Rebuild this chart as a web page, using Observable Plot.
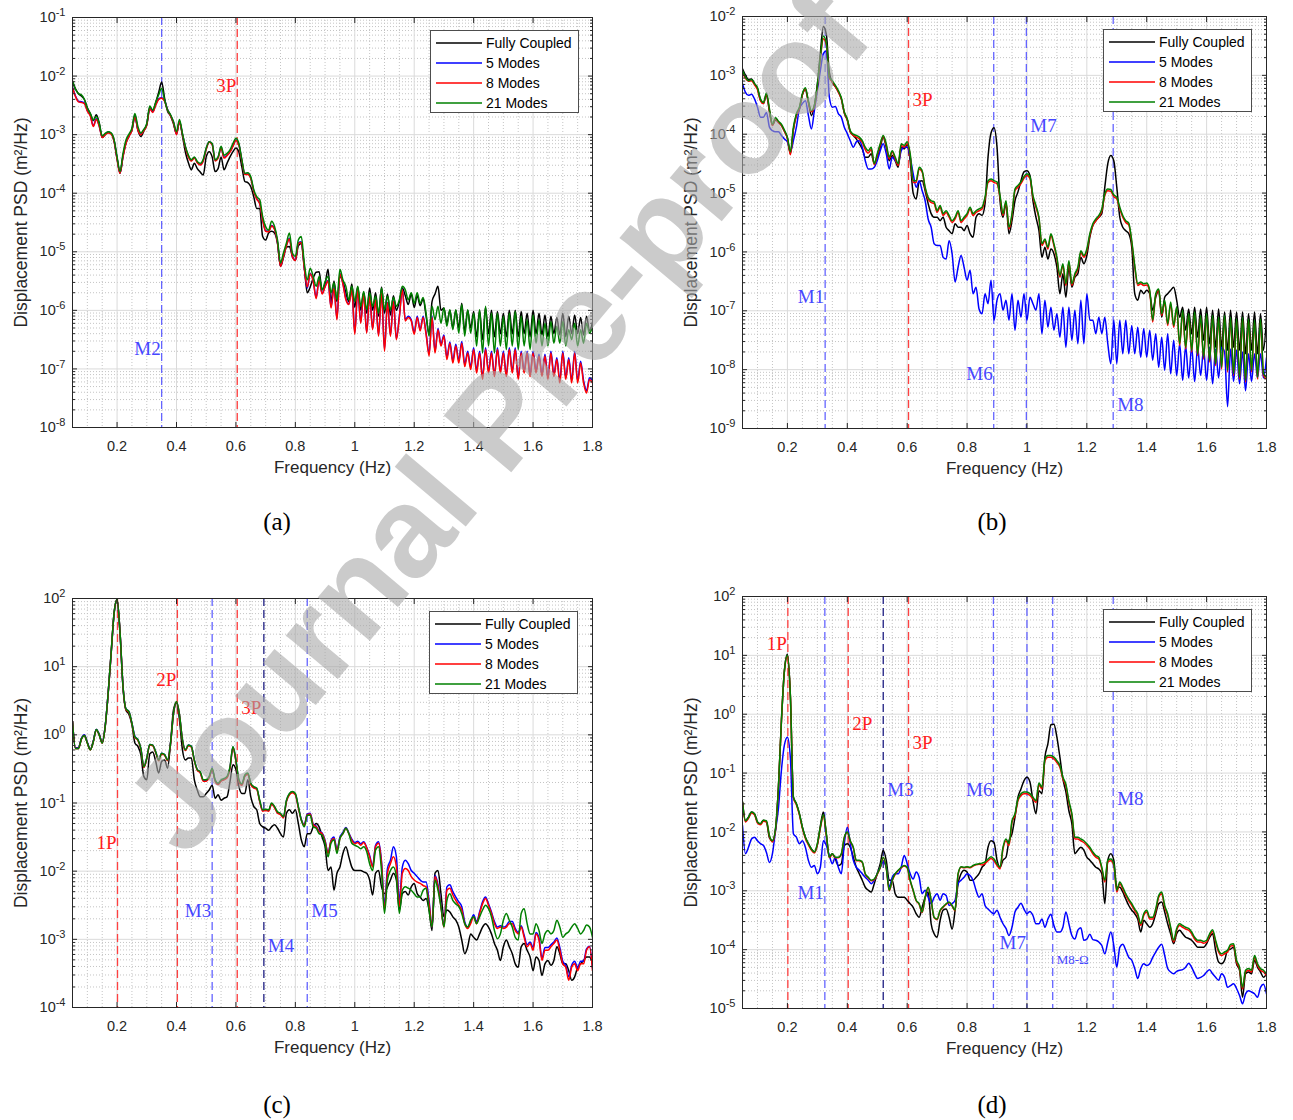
<!DOCTYPE html>
<html>
<head>
<meta charset="utf-8">
<script src="https://cdn.jsdelivr.net/npm/d3@7"></script>
<script src="https://cdn.jsdelivr.net/npm/@observablehq/plot@0.6"></script>
<style>
  body { margin: 0; background: #fff; }
  #page { position: relative; width: 1293px; height: 1120px; overflow: hidden; background: #fff;
          font-family: "Liberation Sans", Arial, sans-serif; }
  .panel { position: absolute; }
  .legend { position: absolute; width: 147px; height: 81px; border: 1px solid #4d4d4d; background: #fff;
            box-sizing: content-box; padding: 0; font-size: 14px; color: #000; }
  .legend .row { position: absolute; left: 0; height: 20px; width: 147px; }
  .legend .row svg { position: absolute; left: 4px; top: 0; }
  .legend .row span { position: absolute; left: 55px; top: 1px; line-height: 18px; white-space: nowrap; }
  .tag { position: absolute; font-family: "Liberation Serif", "Times New Roman", serif; font-size: 25px;
         color: #000; transform: translate(-50%, -50%); }
  #stamp { position: absolute; left: 0; top: 0; pointer-events: none; }
</style>
</head>
<body>
<div id="page"></div>
<script>
// Frequency grid shared by all spectra (Hz)
const freqHz = d3.range(176).map(i => Math.round((0.05 + i * 0.01) * 100) / 100);

const seriesNames = ["Fully Coupled", "5 Modes", "8 Modes", "21 Modes"];
const seriesColors = ["#000000", "#0000ff", "#ff0000", "#008000"];

// Spectra are stored as log10 of displacement PSD (m^2/Hz), one value per frequency step.
// ---- (a)
const logPsdA_fully = [
  -2.10,-2.22,-2.30,-2.34,-2.40,-2.54,-2.64,-2.76,-2.66,-2.80,
  -3.05,-3.00,-2.96,-2.98,-3.10,-3.40,-3.66,-3.36,-3.14,-3.02,
  -2.92,-2.66,-2.92,-3.03,-2.94,-2.82,-2.54,-2.60,-2.45,-2.28,
  -2.10,-2.38,-2.60,-2.68,-2.82,-2.98,-2.78,-3.02,-3.30,-3.48,
  -3.60,-3.49,-3.58,-3.64,-3.69,-3.38,-3.29,-3.38,-3.63,-3.58,
  -3.38,-3.60,-3.49,-3.38,-3.29,-3.23,-3.30,-3.55,-3.80,-3.82,
  -3.89,-4.06,-4.26,-4.26,-4.74,-4.80,-4.68,-4.65,-4.68,-4.86,
  -5.25,-5.10,-4.92,-4.91,-5.08,-5.15,-4.90,-4.86,-5.25,-5.70,
  -5.60,-5.45,-5.35,-5.34,-5.65,-5.55,-5.30,-5.85,-5.50,-5.85,
  -5.42,-5.50,-5.70,-5.85,-5.55,-5.95,-5.60,-6.00,-5.70,-6.05,
  -5.62,-6.00,-5.70,-6.10,-5.60,-6.05,-5.72,-6.08,-5.75,-6.00,
  -5.85,-5.62,-5.75,-5.90,-5.72,-5.95,-5.75,-5.92,-5.80,-6.10,
  -6.40,-5.85,-5.72,-5.59,-6.00,-5.96,-6.22,-6.00,-6.30,-6.00,
  -6.30,-5.88,-6.35,-6.00,-6.30,-6.02,-6.45,-6.00,-6.50,-5.95,
  -6.40,-6.00,-6.45,-6.02,-6.40,-6.05,-6.45,-6.00,-6.40,-6.00,
  -6.45,-6.02,-6.40,-6.05,-6.45,-6.00,-6.40,-6.05,-6.42,-6.08,
  -6.45,-6.10,-6.40,-6.12,-6.42,-6.05,-6.45,-6.10,-6.40,-6.08,
  -6.40,-6.12,-6.42,-6.10,-6.35,-6.20
];
const logPsdA_5 = [
  -2.19,-2.34,-2.43,-2.44,-2.46,-2.59,-2.67,-2.85,-2.73,-2.85,
  -3.04,-2.99,-2.96,-2.98,-3.11,-3.41,-3.65,-3.37,-3.14,-3.02,
  -2.92,-2.69,-2.91,-2.99,-2.92,-2.83,-2.55,-2.61,-2.49,-2.39,
  -2.37,-2.42,-2.57,-2.67,-2.79,-2.99,-2.77,-2.99,-3.21,-3.37,
  -3.44,-3.39,-3.47,-3.51,-3.44,-3.24,-3.12,-3.16,-3.44,-3.39,
  -3.22,-3.39,-3.35,-3.29,-3.19,-3.09,-3.17,-3.44,-3.67,-3.67,
  -3.74,-3.96,-4.09,-4.17,-4.45,-4.64,-4.65,-4.55,-4.61,-4.84,
  -5.24,-5.07,-4.89,-4.77,-5.07,-5.14,-4.85,-4.83,-5.27,-5.62,
  -5.37,-5.49,-5.78,-5.47,-5.71,-5.59,-5.49,-5.94,-5.61,-6.14,
  -5.37,-5.54,-5.80,-5.89,-5.64,-6.38,-5.64,-6.20,-5.71,-6.37,
  -5.75,-6.31,-5.81,-6.42,-5.69,-6.66,-5.86,-6.42,-5.84,-6.48,
  -6.10,-5.64,-6.16,-6.10,-6.16,-6.38,-6.10,-6.33,-6.10,-6.39,
  -6.74,-6.10,-6.70,-6.31,-6.58,-6.42,-6.80,-6.54,-6.86,-6.58,
  -6.86,-6.53,-6.92,-6.70,-6.97,-6.64,-7.03,-6.70,-7.14,-6.64,
  -7.04,-6.70,-7.10,-6.64,-7.04,-6.70,-7.10,-6.64,-7.04,-6.64,
  -7.15,-6.70,-7.04,-6.70,-7.10,-6.70,-7.04,-6.75,-7.10,-6.75,
  -7.15,-6.70,-7.10,-6.81,-7.20,-6.70,-7.15,-6.81,-7.20,-6.70,
  -7.20,-6.87,-7.20,-7.37,-7.15,-7.20
];
const logPsdA_8 = [
  -2.20,-2.35,-2.44,-2.45,-2.47,-2.60,-2.68,-2.86,-2.74,-2.86,
  -3.05,-3.00,-2.97,-2.99,-3.12,-3.42,-3.66,-3.38,-3.15,-3.03,
  -2.93,-2.70,-2.92,-3.00,-2.93,-2.84,-2.56,-2.62,-2.50,-2.40,
  -2.38,-2.43,-2.58,-2.68,-2.80,-3.00,-2.78,-3.00,-3.22,-3.38,
  -3.45,-3.40,-3.48,-3.52,-3.45,-3.25,-3.13,-3.17,-3.45,-3.40,
  -3.23,-3.40,-3.36,-3.30,-3.20,-3.10,-3.18,-3.45,-3.68,-3.68,
  -3.75,-3.97,-4.10,-4.18,-4.46,-4.65,-4.66,-4.56,-4.62,-4.85,
  -5.25,-5.08,-4.90,-4.78,-5.08,-5.15,-4.86,-4.84,-5.28,-5.60,
  -5.38,-5.50,-5.80,-5.48,-5.72,-5.60,-5.50,-5.96,-5.62,-6.16,
  -5.38,-5.55,-5.82,-5.90,-5.65,-6.41,-5.65,-6.22,-5.72,-6.39,
  -5.76,-6.33,-5.82,-6.44,-5.70,-6.70,-5.87,-6.44,-5.85,-6.50,
  -6.12,-5.65,-6.18,-6.12,-6.18,-6.41,-6.12,-6.35,-6.12,-6.41,
  -6.78,-6.12,-6.73,-6.33,-6.61,-6.44,-6.84,-6.56,-6.90,-6.61,
  -6.90,-6.56,-6.96,-6.73,-7.01,-6.67,-7.07,-6.73,-7.18,-6.67,
  -7.07,-6.73,-7.13,-6.67,-7.07,-6.73,-7.13,-6.67,-7.07,-6.67,
  -7.18,-6.73,-7.07,-6.73,-7.13,-6.73,-7.07,-6.78,-7.13,-6.78,
  -7.18,-6.73,-7.13,-6.84,-7.24,-6.73,-7.18,-6.84,-7.24,-6.73,
  -7.24,-6.90,-7.24,-7.41,-7.18,-7.24
];
const logPsdA_21 = [
  -2.08,-2.22,-2.30,-2.32,-2.40,-2.55,-2.64,-2.75,-2.69,-2.81,
  -3.02,-2.98,-2.95,-2.97,-3.09,-3.38,-3.63,-3.32,-3.09,-2.99,
  -2.89,-2.64,-2.86,-2.97,-2.91,-2.81,-2.51,-2.58,-2.45,-2.32,
  -2.21,-2.41,-2.58,-2.66,-2.78,-2.95,-2.74,-2.98,-3.20,-3.35,
  -3.43,-3.38,-3.46,-3.49,-3.42,-3.23,-3.12,-3.15,-3.43,-3.38,
  -3.20,-3.35,-3.32,-3.26,-3.15,-3.06,-3.15,-3.43,-3.66,-3.65,
  -3.72,-3.94,-4.06,-4.11,-4.40,-4.57,-4.63,-4.48,-4.57,-4.80,
  -5.19,-5.02,-4.85,-4.68,-5.02,-5.08,-4.80,-4.74,-5.19,-5.48,
  -5.28,-5.42,-5.59,-5.42,-5.65,-5.51,-5.42,-5.70,-5.53,-5.82,
  -5.30,-5.48,-5.59,-5.82,-5.59,-5.85,-5.59,-5.93,-5.68,-5.99,
  -5.70,-5.93,-5.76,-6.05,-5.62,-5.99,-5.76,-5.99,-5.78,-5.93,
  -5.82,-5.59,-5.65,-5.82,-5.70,-5.88,-5.70,-5.88,-5.78,-6.05,
  -6.44,-5.93,-6.16,-5.93,-6.22,-5.96,-6.27,-5.99,-6.33,-5.99,
  -6.39,-5.90,-6.44,-5.99,-6.39,-6.05,-6.61,-5.99,-6.73,-5.93,
  -6.61,-6.05,-6.73,-6.05,-6.61,-6.10,-6.67,-6.05,-6.61,-6.02,
  -6.67,-6.10,-6.61,-6.16,-6.67,-6.08,-6.56,-6.16,-6.61,-6.22,
  -6.61,-6.19,-6.56,-6.27,-6.56,-6.19,-6.61,-6.33,-6.50,-6.22,
  -6.61,-6.33,-6.56,-6.22,-6.39,-6.27
];

// ---- (b)
const logPsdB_fully = [
  -2.89,-3.00,-3.07,-3.06,-3.14,-3.22,-3.42,-3.48,-3.33,-3.62,
  -3.85,-3.76,-3.80,-3.85,-3.95,-4.07,-4.33,-3.92,-3.68,-3.58,
  -3.33,-3.24,-3.46,-3.68,-3.52,-3.15,-2.62,-2.17,-2.30,-2.95,
  -3.12,-3.19,-3.28,-3.40,-3.64,-3.76,-3.96,-4.02,-4.08,-4.16,
  -4.25,-4.39,-4.39,-4.33,-4.50,-4.39,-4.22,-4.05,-4.22,-4.45,
  -4.36,-4.45,-4.56,-4.22,-4.25,-4.18,-4.45,-5.00,-5.10,-4.81,
  -4.79,-4.96,-5.18,-5.35,-5.41,-5.41,-5.47,-5.41,-5.58,-5.64,
  -5.69,-5.52,-5.58,-5.58,-5.64,-5.55,-5.69,-5.75,-5.41,-5.35,
  -5.38,-5.18,-4.39,-3.98,-3.89,-4.22,-5.13,-5.41,-5.18,-5.69,
  -5.47,-5.13,-4.98,-4.79,-4.64,-4.62,-4.70,-5.13,-5.41,-5.64,
  -6.09,-5.92,-6.12,-5.95,-6.03,-6.26,-6.71,-6.37,-6.77,-6.26,
  -6.60,-6.43,-6.37,-6.09,-6.20,-6.06,-5.75,-5.55,-5.47,-5.41,
  -5.35,-4.90,-4.50,-4.36,-4.45,-4.90,-5.41,-5.58,-5.64,-5.69,
  -5.92,-6.71,-6.82,-6.65,-6.71,-6.65,-6.71,-6.99,-6.77,-6.65,
  -7.11,-6.77,-6.71,-6.65,-6.60,-6.82,-7.11,-6.94,-7.33,-6.97,
  -7.39,-6.94,-7.45,-6.97,-7.50,-6.94,-7.56,-6.99,-7.62,-6.97,
  -7.62,-7.02,-7.67,-6.99,-7.62,-7.02,-7.67,-7.02,-7.73,-7.05,
  -7.67,-7.02,-7.73,-7.05,-7.67,-7.08
];
const logPsdB_5 = [
  -3.14,-3.29,-3.34,-3.32,-3.40,-3.54,-3.71,-3.71,-3.63,-3.88,
  -3.94,-3.96,-3.96,-4.02,-4.08,-4.13,-4.30,-4.11,-3.88,-3.57,
  -3.48,-3.43,-3.68,-3.91,-3.60,-3.26,-2.92,-2.63,-2.58,-3.37,
  -3.54,-3.53,-3.65,-3.71,-3.88,-3.99,-4.11,-4.22,-4.13,-4.11,
  -4.22,-4.45,-4.59,-4.59,-4.56,-4.45,-4.28,-4.16,-4.33,-4.59,
  -4.39,-4.45,-4.50,-4.28,-4.22,-4.22,-4.39,-4.67,-4.90,-4.79,
  -4.96,-5.13,-5.44,-5.58,-5.86,-5.89,-5.89,-6.09,-6.12,-5.81,
  -6.03,-6.51,-6.26,-6.06,-6.26,-6.48,-6.31,-6.71,-6.60,-6.97,
  -7.05,-6.71,-6.88,-6.48,-7.16,-6.82,-6.71,-6.99,-6.82,-7.16,
  -6.71,-7.33,-6.82,-7.11,-6.71,-7.16,-6.77,-6.88,-6.99,-6.71,
  -7.39,-6.82,-7.28,-6.94,-7.33,-7.05,-7.45,-6.94,-7.62,-6.94,
  -7.50,-6.99,-7.56,-6.82,-7.56,-6.71,-7.16,-7.16,-7.39,-7.11,
  -7.39,-7.11,-7.56,-7.90,-7.16,-7.90,-7.16,-7.73,-7.16,-7.73,
  -7.25,-7.73,-7.28,-7.79,-7.30,-7.79,-7.33,-7.84,-7.39,-7.96,
  -7.45,-8.01,-7.39,-8.07,-7.50,-8.10,-7.56,-8.18,-7.60,-8.14,
  -7.62,-8.20,-7.62,-8.10,-7.65,-8.18,-7.62,-8.24,-7.65,-8.14,
  -7.62,-7.70,-8.63,-7.65,-8.20,-7.67,-8.24,-7.70,-8.36,-7.73,
  -8.20,-7.73,-8.14,-7.73,-8.14,-7.80
];
const logPsdB_8 = [
  -2.95,-3.05,-3.10,-3.09,-3.16,-3.24,-3.43,-3.48,-3.32,-3.60,
  -3.85,-3.74,-3.80,-3.85,-3.95,-4.07,-4.35,-3.92,-3.68,-3.56,
  -3.33,-3.23,-3.45,-3.62,-3.53,-3.20,-2.72,-2.38,-2.48,-3.05,
  -3.11,-3.19,-3.28,-3.40,-3.63,-3.76,-3.96,-4.02,-4.05,-4.08,
  -4.14,-4.26,-4.32,-4.26,-4.52,-4.36,-4.18,-4.04,-4.19,-4.42,
  -4.30,-4.42,-4.53,-4.19,-4.22,-4.16,-4.36,-4.82,-4.82,-4.59,
  -4.64,-4.92,-5.10,-5.16,-5.18,-5.33,-5.24,-5.38,-5.33,-5.41,
  -5.50,-5.44,-5.33,-5.50,-5.44,-5.38,-5.27,-5.38,-5.33,-5.30,
  -5.27,-5.10,-4.82,-4.79,-4.82,-4.84,-5.07,-5.38,-5.16,-5.61,
  -5.38,-4.96,-4.90,-4.84,-4.75,-4.70,-4.75,-5.07,-5.24,-5.44,
  -5.89,-5.81,-5.95,-5.72,-5.89,-6.12,-6.43,-6.23,-6.57,-6.18,
  -6.57,-6.40,-6.29,-6.01,-6.09,-5.98,-5.72,-5.55,-5.47,-5.41,
  -5.30,-5.04,-4.96,-4.97,-5.06,-5.10,-5.27,-5.41,-5.50,-5.54,
  -5.84,-6.26,-6.57,-6.54,-6.57,-6.56,-6.68,-7.19,-6.74,-6.66,
  -7.08,-6.85,-7.25,-6.88,-7.28,-6.96,-7.59,-7.02,-7.65,-7.08,
  -7.70,-7.05,-7.76,-7.11,-7.82,-7.08,-7.87,-7.11,-7.93,-7.14,
  -7.99,-7.11,-8.04,-7.14,-8.10,-7.17,-8.16,-7.14,-8.21,-7.17,
  -8.04,-7.19,-8.16,-7.17,-8.10,-8.16
];
const logPsdB_21 = [
  -2.92,-3.03,-3.09,-3.07,-3.14,-3.21,-3.40,-3.46,-3.30,-3.57,
  -3.83,-3.72,-3.78,-3.83,-3.93,-4.05,-4.30,-3.88,-3.65,-3.54,
  -3.31,-3.21,-3.43,-3.60,-3.51,-3.17,-2.69,-2.33,-2.45,-3.03,
  -3.09,-3.17,-3.26,-3.38,-3.62,-3.74,-3.94,-4.00,-4.02,-4.05,
  -4.11,-4.22,-4.28,-4.22,-4.50,-4.33,-4.16,-4.02,-4.16,-4.39,
  -4.28,-4.39,-4.50,-4.16,-4.19,-4.13,-4.33,-4.79,-4.79,-4.56,
  -4.62,-4.90,-5.07,-5.13,-5.15,-5.30,-5.21,-5.35,-5.30,-5.38,
  -5.47,-5.41,-5.30,-5.47,-5.41,-5.35,-5.24,-5.35,-5.30,-5.27,
  -5.24,-5.07,-4.79,-4.76,-4.79,-4.81,-5.04,-5.35,-5.13,-5.58,
  -5.35,-4.93,-4.87,-4.81,-4.72,-4.67,-4.72,-5.04,-5.21,-5.41,
  -5.86,-5.78,-5.92,-5.69,-5.86,-6.09,-6.40,-6.20,-6.54,-6.15,
  -6.54,-6.37,-6.26,-5.98,-6.06,-5.95,-5.69,-5.52,-5.44,-5.38,
  -5.27,-5.01,-4.93,-4.94,-5.03,-5.07,-5.24,-5.38,-5.47,-5.51,
  -5.81,-6.23,-6.54,-6.51,-6.54,-6.53,-6.65,-7.16,-6.71,-6.63,
  -7.05,-6.82,-7.22,-6.85,-7.25,-6.93,-7.56,-6.99,-7.62,-7.05,
  -7.67,-7.02,-7.73,-7.08,-7.79,-7.05,-7.84,-7.08,-7.90,-7.11,
  -7.96,-7.08,-8.01,-7.11,-8.07,-7.14,-8.13,-7.11,-8.18,-7.14,
  -8.01,-7.16,-8.13,-7.14,-8.07,-8.13
];

// ---- (c)
const logPsdC_fully = [
   0.20,-0.20,-0.20,-0.06,-0.01,-0.12,-0.22,-0.10, 0.08, 0.00,
  -0.12, 0.12, 0.61, 1.20, 1.79, 1.99, 1.50, 0.71, 0.36, 0.30,
   0.15,-0.12,-0.17,-0.29,-0.61,-0.66,-0.28,-0.25,-0.39,-0.56,
  -0.39,-0.37,-0.49,-0.12, 0.37, 0.47, 0.22,-0.22,-0.37,-0.34,
  -0.34,-0.66,-0.81,-0.91,-0.91,-0.86,-0.81,-0.74,-0.93,-0.88,
  -0.96,-0.93,-0.91,-0.69,-0.44,-0.51,-0.76,-0.86,-0.86,-0.66,
  -0.91,-1.05,-1.10,-1.30,-1.35,-1.37,-1.40,-1.35,-1.32,-1.37,
  -1.45,-1.50,-1.15,-1.10,-1.15,-1.10,-1.30,-1.54,-1.64,-1.45,
  -1.45,-1.35,-1.30,-1.35,-1.50,-1.64,-1.99,-1.94,-2.28,-2.03,
  -1.94,-1.74,-1.64,-1.79,-1.94,-1.99,-1.99,-1.99,-2.01,-2.03,
  -2.13,-2.35,-2.03,-1.99,-2.23,-2.33,-2.23,-2.13,-2.03,-2.13,
  -2.57,-2.33,-2.30,-2.35,-2.23,-2.18,-2.33,-2.38,-2.43,-2.40,
  -2.57,-2.87,-2.03,-1.99,-2.33,-2.67,-2.57,-2.60,-2.67,-2.72,
  -2.82,-3.01,-3.21,-3.11,-2.92,-2.97,-3.01,-2.92,-2.82,-2.77,
  -2.82,-2.92,-3.06,-3.16,-3.31,-3.11,-3.01,-3.11,-3.21,-3.36,
  -3.41,-3.11,-3.06,-3.16,-3.26,-3.46,-3.26,-3.31,-3.53,-3.36,
  -3.31,-3.38,-3.31,-3.11,-3.21,-3.36,-3.36,-3.46,-3.60,-3.55,
  -3.41,-3.36,-3.31,-3.26,-3.26,-3.36
];
const logPsdC_5 = [
   0.20,-0.19,-0.19,-0.05, 0.00,-0.11,-0.21,-0.09, 0.08, 0.01,
  -0.11, 0.13, 0.61, 1.19, 1.78, 1.98, 1.49, 0.70, 0.38, 0.34,
   0.17,-0.02,-0.07,-0.20,-0.47,-0.34,-0.14,-0.15,-0.25,-0.37,
  -0.27,-0.29,-0.37,-0.12, 0.31, 0.48, 0.29,-0.07,-0.22,-0.15,
  -0.17,-0.37,-0.51,-0.55,-0.67,-0.67,-0.62,-0.50,-0.67,-0.72,
  -0.67,-0.65,-0.62,-0.48,-0.18,-0.38,-0.67,-0.73,-0.60,-0.57,
  -0.72,-0.77,-0.79,-0.97,-1.11,-1.10,-1.11,-1.01,-1.06,-1.14,
  -1.16,-1.21,-0.97,-0.87,-0.84,-0.87,-1.06,-1.24,-1.32,-1.16,
  -1.15,-1.31,-1.34,-1.41,-1.44,-1.55,-1.73,-1.55,-1.50,-1.68,
  -1.50,-1.43,-1.36,-1.44,-1.53,-1.58,-1.56,-1.60,-1.57,-1.65,
  -1.77,-1.92,-1.62,-1.57,-1.86,-2.50,-1.96,-1.84,-1.64,-1.79,
  -2.43,-1.94,-1.84,-1.89,-1.99,-2.03,-2.08,-2.13,-2.16,-2.16,
  -2.43,-2.82,-2.06,-2.20,-2.50,-2.80,-2.23,-2.20,-2.30,-2.38,
  -2.45,-2.52,-2.74,-2.82,-2.74,-2.64,-2.74,-2.60,-2.45,-2.38,
  -2.48,-2.60,-2.74,-2.82,-2.80,-2.82,-2.80,-2.74,-2.74,-2.84,
  -2.90,-2.80,-2.94,-3.08,-3.04,-3.12,-2.90,-2.98,-3.28,-3.12,
  -3.12,-3.08,-3.04,-2.98,-3.12,-3.32,-3.38,-3.55,-3.38,-3.32,
  -3.42,-3.32,-3.32,-3.14,-3.10,-3.42
];
const logPsdC_8 = [
   0.20,-0.20,-0.20,-0.06,-0.01,-0.12,-0.22,-0.10, 0.07, 0.00,
  -0.12, 0.12, 0.60, 1.19, 1.78, 1.98, 1.49, 0.70, 0.37, 0.33,
   0.16,-0.04,-0.08,-0.21,-0.48,-0.35,-0.15,-0.16,-0.26,-0.38,
  -0.28,-0.30,-0.38,-0.13, 0.31, 0.48, 0.29,-0.08,-0.23,-0.16,
  -0.18,-0.38,-0.52,-0.56,-0.68,-0.68,-0.63,-0.51,-0.68,-0.73,
  -0.68,-0.66,-0.63,-0.49,-0.19,-0.39,-0.68,-0.74,-0.61,-0.58,
  -0.73,-0.78,-0.80,-0.98,-1.12,-1.11,-1.12,-1.02,-1.07,-1.15,
  -1.17,-1.22,-0.98,-0.88,-0.85,-0.88,-1.07,-1.25,-1.33,-1.17,
  -1.16,-1.32,-1.35,-1.42,-1.45,-1.56,-1.74,-1.56,-1.52,-1.70,
  -1.52,-1.45,-1.37,-1.45,-1.55,-1.60,-1.58,-1.62,-1.58,-1.66,
  -1.79,-1.94,-1.64,-1.59,-1.89,-2.57,-2.03,-1.89,-1.79,-1.94,
  -2.52,-2.03,-1.96,-1.99,-2.08,-2.13,-2.16,-2.18,-2.21,-2.23,
  -2.48,-2.82,-2.08,-2.23,-2.52,-2.82,-2.28,-2.25,-2.35,-2.43,
  -2.50,-2.57,-2.77,-2.84,-2.77,-2.67,-2.77,-2.62,-2.48,-2.40,
  -2.50,-2.62,-2.77,-2.84,-2.82,-2.84,-2.82,-2.77,-2.77,-2.87,
  -2.92,-2.82,-2.97,-3.11,-3.06,-3.16,-2.92,-3.01,-3.31,-3.16,
  -3.16,-3.11,-3.06,-3.01,-3.16,-3.36,-3.41,-3.60,-3.41,-3.36,
  -3.46,-3.36,-3.36,-3.16,-3.11,-3.46
];
const logPsdC_21 = [
   0.20,-0.20,-0.20,-0.06,-0.01,-0.12,-0.22,-0.10, 0.08, 0.00,
  -0.12, 0.12, 0.61, 1.20, 1.79, 1.99, 1.50, 0.71, 0.38, 0.34,
   0.17,-0.03,-0.07,-0.20,-0.47,-0.34,-0.14,-0.15,-0.25,-0.37,
  -0.27,-0.29,-0.37,-0.12, 0.32, 0.49, 0.30,-0.07,-0.22,-0.15,
  -0.17,-0.37,-0.51,-0.54,-0.66,-0.66,-0.61,-0.49,-0.66,-0.71,
  -0.66,-0.64,-0.61,-0.47,-0.17,-0.37,-0.66,-0.72,-0.59,-0.56,
  -0.71,-0.76,-0.78,-0.96,-1.10,-1.09,-1.10,-1.00,-1.05,-1.13,
  -1.15,-1.20,-0.96,-0.86,-0.83,-0.86,-1.05,-1.25,-1.35,-1.18,
  -1.18,-1.35,-1.37,-1.45,-1.47,-1.59,-1.79,-1.59,-1.54,-1.74,
  -1.52,-1.45,-1.37,-1.45,-1.59,-1.62,-1.64,-1.67,-1.64,-1.71,
  -1.89,-1.99,-1.69,-1.64,-1.99,-2.62,-2.13,-1.99,-1.94,-2.08,
  -2.62,-2.28,-2.23,-2.25,-2.28,-2.33,-2.38,-2.38,-2.28,-2.25,
  -2.57,-2.82,-2.13,-2.28,-2.52,-2.82,-2.43,-2.33,-2.43,-2.48,
  -2.52,-2.62,-2.77,-2.82,-2.72,-2.67,-2.77,-2.67,-2.57,-2.50,
  -2.55,-2.67,-2.87,-2.99,-2.92,-2.72,-2.62,-2.72,-2.82,-2.97,
  -3.01,-2.62,-2.55,-2.77,-2.92,-2.92,-2.77,-2.87,-3.06,-2.92,
  -2.87,-2.92,-2.87,-2.72,-2.82,-2.97,-2.92,-2.89,-2.82,-2.77,
  -2.84,-2.92,-2.87,-2.79,-2.82,-2.97
];

// ---- (d)
const logPsdD_fully = [
  -1.49,-1.81,-1.75,-1.66,-1.69,-1.83,-1.86,-1.80,-1.83,-2.10,
  -2.15,-1.98,-1.24,-0.11, 0.74, 1.02, 0.30,-1.41,-1.52,-1.69,
  -1.92,-2.09,-2.20,-2.29,-2.34,-2.22,-1.90,-1.66,-2.05,-2.43,
  -2.37,-2.46,-2.57,-2.54,-2.23,-2.20,-2.26,-2.43,-2.60,-2.71,
  -2.82,-2.94,-2.99,-3.02,-2.88,-2.71,-2.54,-2.31,-2.48,-2.82,
  -2.82,-3.05,-3.11,-3.11,-3.11,-3.16,-3.22,-3.28,-3.39,-3.45,
  -3.28,-3.11,-3.02,-3.56,-3.73,-3.79,-3.50,-3.33,-3.31,-3.45,
  -3.65,-3.33,-2.88,-2.71,-2.65,-2.68,-2.82,-2.82,-2.77,-2.71,
  -2.60,-2.54,-2.26,-2.15,-2.18,-2.48,-2.60,-2.48,-2.43,-2.15,
  -2.03,-1.75,-1.41,-1.27,-1.13,-1.07,-1.15,-1.47,-1.69,-1.30,
  -1.35,-0.73,-0.50,-0.18,-0.17,-0.39,-0.73,-1.10,-1.32,-1.64,
  -1.86,-2.37,-2.31,-2.26,-2.31,-2.43,-2.48,-2.54,-2.60,-2.63,
  -2.71,-3.22,-2.48,-2.37,-2.48,-2.94,-2.94,-3.02,-3.14,-3.25,
  -3.33,-3.39,-3.48,-3.70,-3.50,-3.56,-3.62,-3.56,-3.39,-3.22,
  -3.19,-3.36,-3.56,-3.73,-3.90,-3.73,-3.67,-3.73,-3.79,-3.81,
  -3.84,-3.90,-3.96,-3.96,-3.96,-3.90,-3.79,-3.73,-4.01,-4.21,
  -4.24,-4.18,-4.01,-3.99,-3.96,-4.24,-4.35,-4.81,-4.41,-4.38,
  -4.41,-4.18,-4.30,-4.38,-4.47,-4.41
];
const logPsdD_5 = [
  -1.89,-2.37,-2.26,-2.12,-2.09,-2.15,-2.20,-2.23,-2.35,-2.52,
  -2.37,-1.98,-1.60,-0.95,-0.52,-0.39,-0.75,-2.03,-2.09,-2.20,
  -2.15,-2.26,-2.48,-2.60,-2.57,-2.71,-2.60,-2.15,-2.23,-2.40,
  -2.54,-2.43,-2.60,-2.71,-2.20,-1.92,-2.20,-2.48,-2.60,-2.65,
  -2.71,-2.77,-2.82,-2.88,-2.82,-2.71,-2.60,-2.51,-2.60,-2.94,
  -2.77,-2.71,-2.71,-2.60,-2.40,-2.54,-2.71,-2.80,-2.68,-2.77,
  -3.05,-2.99,-3.11,-3.22,-3.11,-3.05,-3.16,-3.05,-3.08,-3.25,
  -3.22,-3.16,-2.88,-2.82,-2.77,-2.71,-2.74,-2.82,-2.99,-3.11,
  -3.05,-3.25,-3.31,-3.36,-3.39,-3.33,-3.45,-3.56,-3.64,-3.76,
  -3.62,-3.36,-3.28,-3.21,-3.31,-3.39,-3.35,-3.42,-3.56,-3.56,
  -3.48,-3.62,-3.48,-3.40,-3.59,-3.70,-3.70,-3.62,-3.36,-3.56,
  -3.76,-3.82,-3.67,-3.63,-3.84,-3.82,-3.74,-3.83,-3.84,-3.87,
  -3.93,-4.07,-3.87,-3.70,-3.93,-4.30,-3.96,-3.91,-4.01,-4.13,
  -4.18,-4.32,-4.49,-4.32,-4.24,-4.27,-4.24,-4.13,-4.04,-3.96,
  -3.91,-4.10,-4.32,-4.38,-4.41,-4.37,-4.35,-4.34,-4.30,-4.23,
  -4.30,-4.41,-4.49,-4.47,-4.44,-4.38,-4.34,-4.41,-4.47,-4.52,
  -4.41,-4.47,-4.64,-4.61,-4.58,-4.66,-4.78,-4.92,-4.75,-4.70,
  -4.72,-4.75,-4.81,-4.64,-4.59,-4.75
];
const logPsdD_8 = [
  -1.50,-1.83,-1.77,-1.68,-1.71,-1.85,-1.88,-1.82,-1.83,-2.08,
  -2.17,-1.97,-1.25,-0.12, 0.73, 0.99, 0.29,-1.42,-1.54,-1.71,
  -1.94,-2.11,-2.22,-2.31,-2.36,-2.22,-1.94,-1.73,-2.05,-2.44,
  -2.38,-2.44,-2.44,-2.38,-2.10,-2.01,-2.16,-2.27,-2.49,-2.49,
  -2.52,-2.72,-2.78,-2.83,-2.81,-2.72,-2.61,-2.44,-2.61,-3.00,
  -2.83,-2.72,-2.66,-2.61,-2.58,-2.61,-2.83,-3.00,-3.17,-3.23,
  -3.37,-3.12,-2.95,-3.17,-3.46,-3.49,-3.34,-3.28,-3.23,-3.20,
  -3.26,-3.34,-2.72,-2.60,-2.61,-2.60,-2.61,-2.58,-2.56,-2.55,
  -2.56,-2.54,-2.49,-2.45,-2.49,-2.57,-2.63,-2.29,-2.15,-2.23,
  -1.84,-1.72,-1.47,-1.38,-1.35,-1.35,-1.38,-1.44,-1.50,-1.20,
  -1.27,-0.79,-0.73,-0.73,-0.76,-0.82,-0.90,-1.10,-1.22,-1.50,
  -1.72,-2.12,-2.12,-2.15,-2.18,-2.23,-2.29,-2.37,-2.43,-2.46,
  -2.63,-2.85,-2.51,-2.49,-2.57,-3.02,-2.88,-2.97,-3.08,-3.17,
  -3.25,-3.34,-3.42,-3.59,-3.42,-3.36,-3.48,-3.48,-3.34,-3.11,
  -3.05,-3.28,-3.42,-3.65,-3.87,-3.67,-3.59,-3.62,-3.65,-3.67,
  -3.73,-3.82,-3.87,-3.87,-3.89,-3.87,-3.76,-3.69,-3.87,-4.04,
  -4.10,-4.07,-4.04,-3.94,-3.93,-4.21,-4.33,-4.67,-4.38,-4.35,
  -4.38,-4.13,-4.27,-4.35,-4.38,-4.44
];
const logPsdD_21 = [
  -1.49,-1.81,-1.75,-1.66,-1.69,-1.83,-1.86,-1.80,-1.81,-2.06,
  -2.15,-1.95,-1.24,-0.11, 0.74, 1.00, 0.30,-1.41,-1.52,-1.69,
  -1.92,-2.09,-2.20,-2.29,-2.34,-2.20,-1.92,-1.71,-2.03,-2.43,
  -2.37,-2.43,-2.43,-2.37,-2.09,-2.00,-2.15,-2.26,-2.48,-2.48,
  -2.51,-2.71,-2.77,-2.82,-2.80,-2.71,-2.60,-2.43,-2.60,-2.99,
  -2.82,-2.71,-2.65,-2.60,-2.57,-2.60,-2.82,-2.99,-3.16,-3.22,
  -3.36,-3.11,-2.94,-3.16,-3.45,-3.48,-3.33,-3.27,-3.22,-3.19,
  -3.25,-3.33,-2.71,-2.59,-2.60,-2.59,-2.60,-2.57,-2.55,-2.54,
  -2.53,-2.51,-2.46,-2.42,-2.46,-2.54,-2.60,-2.26,-2.12,-2.20,
  -1.81,-1.69,-1.44,-1.35,-1.32,-1.32,-1.35,-1.41,-1.47,-1.17,
  -1.24,-0.76,-0.70,-0.70,-0.73,-0.79,-0.87,-1.07,-1.19,-1.47,
  -1.69,-2.09,-2.09,-2.12,-2.15,-2.20,-2.26,-2.34,-2.40,-2.43,
  -2.60,-2.82,-2.48,-2.46,-2.54,-2.99,-2.85,-2.94,-3.05,-3.14,
  -3.22,-3.31,-3.39,-3.56,-3.39,-3.33,-3.45,-3.45,-3.31,-3.08,
  -3.02,-3.25,-3.39,-3.62,-3.84,-3.64,-3.56,-3.59,-3.62,-3.64,
  -3.70,-3.79,-3.84,-3.84,-3.86,-3.84,-3.73,-3.66,-3.84,-4.01,
  -4.07,-4.04,-4.01,-3.91,-3.90,-4.18,-4.30,-4.64,-4.35,-4.32,
  -4.35,-4.10,-4.24,-4.32,-4.35,-4.41
];

// Marked frequencies: rotor harmonics (nP) and structural modes (Mn).
// "at" is the PSD level where the name is written; side says which side of the line it sits.
const markersA = [
  {f: 0.350, label: "M2", kind: "mode", at: 2.2e-7, side: "left"},
  {f: 0.6045, label: "3P", kind: "rotor", at: 6.9e-3, side: "left"}
];
const markersB = [
  {f: 0.326, label: "M1", kind: "mode", at: 1.7e-7, side: "left"},
  {f: 0.6045, label: "3P", kind: "rotor", at: 3.9e-4, side: "right"},
  {f: 0.889, label: "M6", kind: "mode", at: 8.5e-9, side: "left"},
  {f: 0.998, label: "M7", kind: "mode", at: 1.4e-4, side: "right"},
  {f: 1.288, label: "M8", kind: "mode", at: 2.5e-9, side: "right"}
];
const markersC = [
  {f: 0.2015, label: "1P", kind: "rotor", at: 2.6e-2, side: "left"},
  {f: 0.403, label: "2P", kind: "rotor", at: 6.3, side: "left"},
  {f: 0.520, label: "M3", kind: "mode", at: 2.6e-3, side: "left"},
  {f: 0.6045, label: "3P", kind: "rotor", at: 2.5, side: "right"},
  {f: 0.694, label: "M4", kind: "modeDark", at: 7.9e-4, side: "right"},
  {f: 0.840, label: "M5", kind: "mode", at: 2.6e-3, side: "right"}
];
const markersD = [
  {f: 0.2015, label: "1P", kind: "rotor", at: 15.5, side: "left"},
  {f: 0.325, label: "M1", kind: "mode", at: 9.1e-4, side: "left"},
  {f: 0.403, label: "2P", kind: "rotor", at: 0.69, side: "right"},
  {f: 0.520, label: "M3", kind: "modeDark", at: 5.1e-2, side: "right"},
  {f: 0.6045, label: "3P", kind: "rotor", at: 0.33, side: "right"},
  {f: 0.888, label: "M6", kind: "mode", at: 5.1e-2, side: "left"},
  {f: 1.000, label: "M7", kind: "mode", at: 1.3e-4, side: "left"},
  {f: 1.086, label: "M8-Ω", kind: "mode", at: 6.6e-5, side: "right", small: true},
  {f: 1.288, label: "M8", kind: "mode", at: 3.7e-2, side: "right"}
];

const xMajor = [0.2, 0.4, 0.6, 0.8, 1, 1.2, 1.4, 1.6, 1.8];

// ---------------------------------------------------------------- drawing
const lineColor = {rotor: "#ff4040", mode: "#6464ff", modeDark: "#1e1e82"};
const labelColor = {rotor: "#ff2020", mode: "#4646ff", modeDark: "#4646ff"};
const axisInk = "#262626";

const panels = [
  {tag: "(a)", left: 0,   top: 0,   width: 612, height: 480, mt: 17, mb: 53, yPow: [-8, -1],
   series: [logPsdA_fully, logPsdA_5, logPsdA_8, logPsdA_21], markers: markersA,
   legend: [430, 30], tagAt: [277, 522]},
  {tag: "(b)", left: 670, top: 0,   width: 616, height: 480, mt: 16, mb: 52, yPow: [-9, -2],
   series: [logPsdB_fully, logPsdB_5, logPsdB_8, logPsdB_21], markers: markersB,
   legend: [1103, 29], tagAt: [992, 522]},
  {tag: "(c)", left: 0,   top: 580, width: 612, height: 480, mt: 18, mb: 53, yPow: [-4, 2],
   series: [logPsdC_fully, logPsdC_5, logPsdC_8, logPsdC_21], markers: markersC,
   legend: [429, 611], tagAt: [277, 1105]},
  {tag: "(d)", left: 670, top: 580, width: 616, height: 480, mt: 16, mb: 52, yPow: [-5, 2],
   series: [logPsdD_fully, logPsdD_5, logPsdD_8, logPsdD_21], markers: markersD,
   legend: [1103, 609], tagAt: [992, 1105]}
];

const page = document.getElementById("page");

function decadeTicks([lo, hi]) {
  const major = d3.range(lo, hi + 1).map(p => Math.pow(10, p));
  const minor = [];
  for (let p = lo; p < hi; p++) for (let m = 2; m <= 9; m++) minor.push(m * Math.pow(10, p));
  return {major, minor};
}

function drawPanel(p) {
  p.series.forEach((s, k) => {
    if (s.length !== freqHz.length) throw new Error(`${p.tag} ${seriesNames[k]}: ${s.length} values`);
  });
  const {major: yMajor, minor: yMinor} = decadeTicks(p.yPow);
  const xMinor = d3.range(1, 37).map(i => Math.round(i * 5) / 100).filter(v => !xMajor.includes(v));
  const noText = () => "";

  const marks = [
    Plot.gridX(xMinor, {stroke: "#c4c4c4", strokeOpacity: 1, strokeDasharray: "1,2"}),
    Plot.gridY(yMinor, {stroke: "#c4c4c4", strokeOpacity: 1, strokeDasharray: "1,2"}),
    Plot.gridX(xMajor, {stroke: "#dadada", strokeOpacity: 1}),
    Plot.gridY(yMajor, {stroke: "#dadada", strokeOpacity: 1}),
    ...p.markers.map(m => Plot.ruleX([m.f], {stroke: lineColor[m.kind], strokeWidth: 1.3, strokeDasharray: "8,4"})),
    ...p.series.map((vals, k) => Plot.line(
      vals.map((e, i) => ({f: freqHz[i], psd: Math.pow(10, e)})),
      {x: "f", y: "psd", stroke: seriesColors[k], strokeWidth: 1.5, curve: "monotone-x", clip: true})),
    ...p.markers.map(m => Plot.text([m], {
      x: "f", y: "at", text: "label", fill: labelColor[m.kind],
      textAnchor: m.side === "left" ? "end" : "start", dx: m.side === "left" ? -1 : 4,
      fontFamily: "Liberation Serif, Times New Roman, serif", fontSize: m.small ? 13 : 19
    })),
    Plot.frame({stroke: axisInk, strokeWidth: 1}),
    // tick marks drawn inward on all four sides
    Plot.axisX(xMajor, {anchor: "bottom", tickSize: -5, tickFormat: noText, label: null, stroke: axisInk}),
    Plot.axisX(xMajor, {anchor: "top", tickSize: -5, tickFormat: noText, label: null, stroke: axisInk}),
    Plot.axisY(yMajor, {anchor: "left", tickSize: -5, tickFormat: noText, label: null, stroke: axisInk}),
    Plot.axisY(yMajor, {anchor: "right", tickSize: -5, tickFormat: noText, label: null, stroke: axisInk}),
    Plot.axisY(yMinor, {anchor: "left", tickSize: -3, tickFormat: noText, label: null, stroke: axisInk}),
    Plot.axisY(yMinor, {anchor: "right", tickSize: -3, tickFormat: noText, label: null, stroke: axisInk}),
    // tick labels
    Plot.axisX(xMajor, {anchor: "bottom", tickSize: 0, tickPadding: 13, tickFormat: d => String(d), label: null, fill: axisInk}),
    Plot.axisY(yMajor, {anchor: "left", tickSize: 0, tickPadding: 7,
      tickFormat: d => String(Math.round(Math.log10(d))), label: null, fill: axisInk}),
    // axis titles
    Plot.text(["Frequency (Hz)"], {frameAnchor: "bottom", dy: 40, lineAnchor: "middle", textAnchor: "middle",
      text: d => d, fontSize: 17, fill: axisInk}),
    Plot.text(["Displacement PSD (m\u00b2/Hz)"], {frameAnchor: "left", dx: -51, rotate: -90,
      textAnchor: "middle", lineAnchor: "middle", text: d => d, fontSize: 17.5, fill: axisInk})
  ];

  const svg = Plot.plot({
    width: p.width, height: p.height,
    marginLeft: 72, marginRight: p.width - 72 - (p.left === 0 ? 520 : 524),
    marginTop: p.mt, marginBottom: p.mb,
    style: {fontFamily: "Liberation Sans, Arial, sans-serif", fontSize: "14.5px", background: "transparent", overflow: "visible"},
    x: {domain: [0.05, 1.8], label: null},
    y: {type: "log", domain: [Math.pow(10, p.yPow[0]), Math.pow(10, p.yPow[1])], label: null},
    marks
  });

  // decade labels as 10 with a raised exponent
  d3.select(svg).selectAll('g[aria-label="y-axis tick label"] text').each(function () {
    const exp = this.textContent;
    if (!exp) return;
    const t = d3.select(this).text(null);
    t.append("tspan").text("10");
    t.append("tspan").attr("dy", "-0.55em").attr("font-size", "0.76em").text(exp);
  });

  const holder = document.createElement("div");
  holder.className = "panel";
  holder.style.left = p.left + "px";
  holder.style.top = p.top + "px";
  holder.appendChild(svg);
  page.appendChild(holder);

  // legend box inside the axes
  const lg = document.createElement("div");
  lg.className = "legend";
  lg.style.left = p.legend[0] + "px";
  lg.style.top = p.legend[1] + "px";
  seriesNames.forEach((name, k) => {
    const row = document.createElement("div");
    row.className = "row";
    row.style.top = (2 + 20 * k) + "px";
    row.innerHTML = `<svg width="48" height="20"><line x1="1" x2="47" y1="10" y2="10" stroke="${seriesColors[k]}" stroke-width="1.5"/></svg><span>${name}</span>`;
    lg.appendChild(row);
  });
  page.appendChild(lg);

  const tag = document.createElement("div");
  tag.className = "tag";
  tag.style.left = p.tagAt[0] + "px";
  tag.style.top = p.tagAt[1] + "px";
  tag.textContent = p.tag;
  page.appendChild(tag);
}

panels.forEach(drawPanel);

// diagonal "Journal Pre-proof" stamp across the figure
const stamp = d3.select(page).append("svg").attr("id", "stamp").attr("width", 1293).attr("height", 1120);
stamp.append("text")
  .attr("x", 505).attr("y", 427)
  .attr("text-anchor", "middle").attr("dominant-baseline", "middle")
  .attr("transform", "rotate(-50 505 427)")
  .attr("font-family", "Liberation Sans, Arial, sans-serif").attr("font-size", 128).attr("font-weight", "bold")
  .attr("fill", "#a8a8a8").attr("fill-opacity", 0.6)
  .text("Journal Pre-proof");
</script>
</body>
</html>
